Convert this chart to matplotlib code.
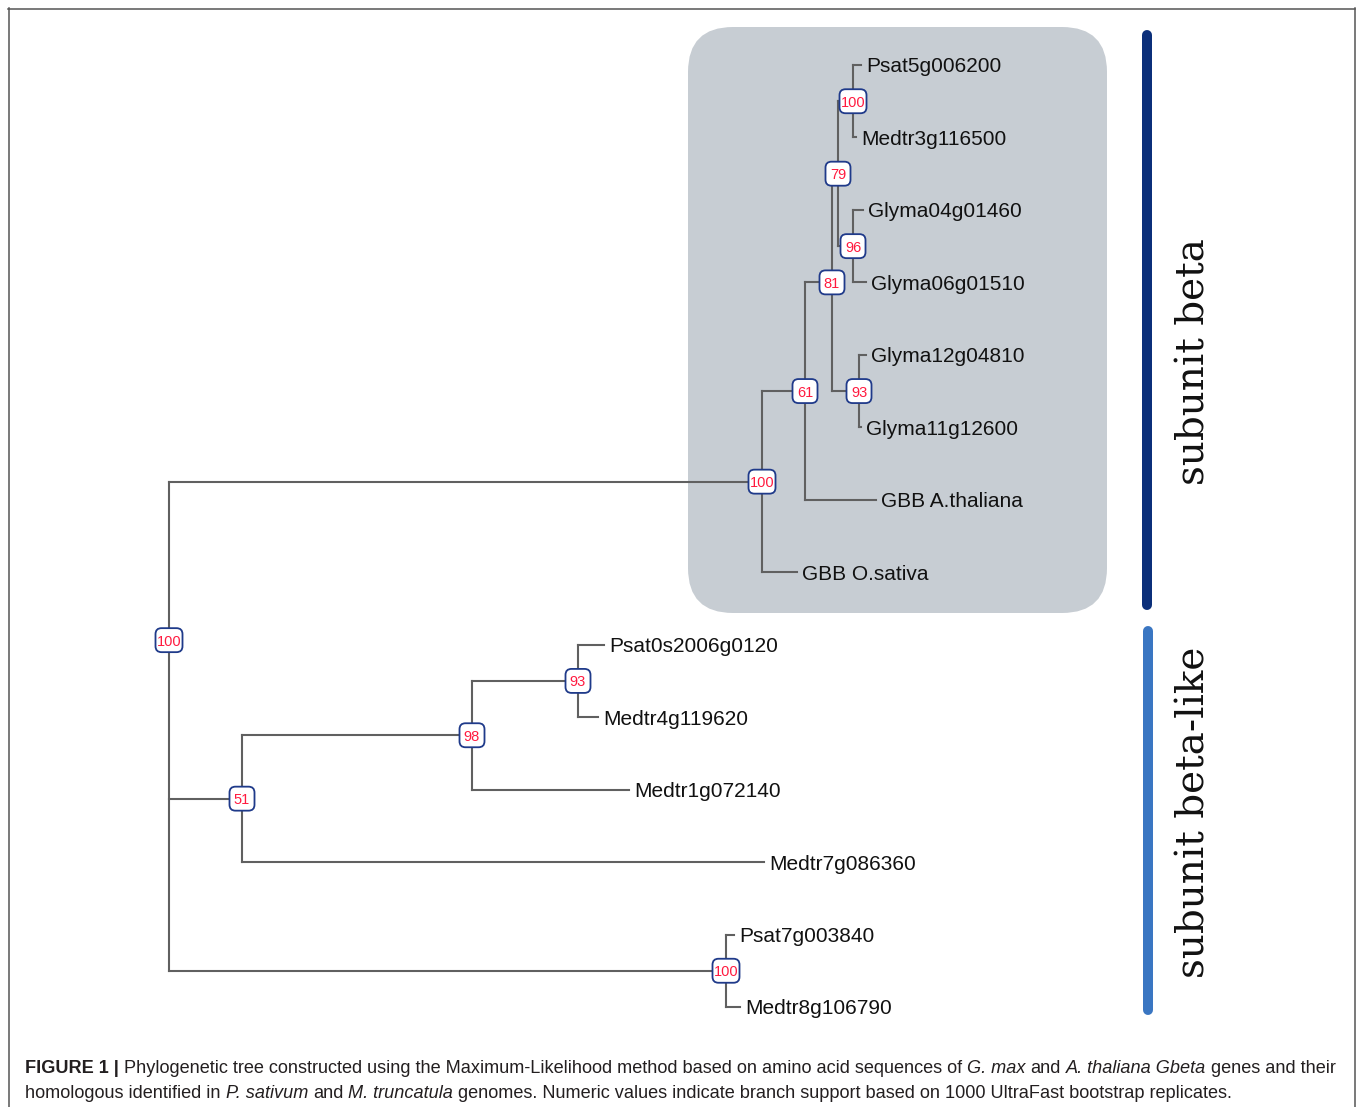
import matplotlib
matplotlib.use('Agg')
import matplotlib.pyplot as plt
import matplotlib.transforms as mtransforms
from matplotlib.patches import FancyBboxPatch
from matplotlib.lines import Line2D

W, H = 1358, 1107

# leaves from top to bottom and their distance from the root
leaf_names = ['Psat5g006200', 'Medtr3g116500', 'Glyma04g01460', 'Glyma06g01510',
              'Glyma12g04810', 'Glyma11g12600', 'GBB A.thaliana', 'GBB O.sativa',
              'Psat0s2006g0120', 'Medtr4g119620', 'Medtr1g072140', 'Medtr7g086360',
              'Psat7g003840', 'Medtr8g106790']
leaf_depth = [692, 687, 694, 697, 697, 692, 707, 628, 435, 429, 460, 595, 565, 571]

# internal nodes
node_names = ['root', 'beta', 'n61', 'n81', 'n79', 'n100a', 'n96', 'n93a',
              'n51', 'n98', 'n93b', 'n100c']
node_children = [
    ['beta', 'n51', 'n100c'],
    ['n61', 'GBB O.sativa'],
    ['n81', 'GBB A.thaliana'],
    ['n79', 'n93a'],
    ['n100a', 'n96'],
    ['Psat5g006200', 'Medtr3g116500'],
    ['Glyma04g01460', 'Glyma06g01510'],
    ['Glyma12g04810', 'Glyma11g12600'],
    ['n98', 'Medtr7g086360'],
    ['n93b', 'Medtr1g072140'],
    ['Psat0s2006g0120', 'Medtr4g119620'],
    ['Psat7g003840', 'Medtr8g106790'],
]
node_depth = [0, 593, 636, 663, 669, 684, 684, 690, 73, 303, 409, 557]
node_support = [100, 100, 61, 81, 79, 100, 96, 93, 51, 98, 93, 100]

clade_labels = ['subunit beta', 'subunit beta-like']

caption_line1 = [('FIGURE 1 |', 'bold', 'normal'),
                 ('Phylogenetic tree constructed using the Maximum-Likelihood method based on amino acid sequences of', 'normal', 'normal'),
                 ('G. max', 'normal', 'italic'),
                 ('and', 'normal', 'normal'),
                 ('A. thaliana Gbeta', 'normal', 'italic'),
                 ('genes and their', 'normal', 'normal')]
caption_line2 = [('homologous identified in', 'normal', 'normal'),
                 ('P. sativum', 'normal', 'italic'),
                 ('and', 'normal', 'normal'),
                 ('M. truncatula', 'normal', 'italic'),
                 ('genomes. Numeric values indicate branch support based on 1000 UltraFast bootstrap replicates.', 'normal', 'normal')]

line_col = '#606060'
box_edge = '#1f3a8a'
num_col = '#ff1a3f'
sans = 'Liberation Sans'

# tree layout
depth = dict(zip(leaf_names, leaf_depth))
depth.update(zip(node_names, node_depth))
children = dict(zip(node_names, node_children))
row = {n: i for i, n in enumerate(leaf_names)}

def get_row(n):
    if n not in row:
        kids = children[n]
        row[n] = (get_row(kids[0]) + get_row(kids[1])) / 2
    return row[n]

for n in node_names:
    get_row(n)

fig = plt.figure(figsize=(W / 100, H / 100), dpi=100)
ax = fig.add_axes([0, 0, 1, 1])
ax.axis('off')
row_px = 72.46
ax.set_xlim(-169, W - 169)
ax.set_ylim((H - 65) / row_px, -65 / row_px)

ident = mtransforms.IdentityTransform()

# frame round the figure
for xs, ys in [([8, 1355], [H - 8.5, H - 8.5]), ([8.5, 8.5], [0, H - 8]), ([1355, 1355], [0, H - 8])]:
    fig.add_artist(Line2D(xs, ys, transform=ident, color='#555555', lw=1.1))

# shaded clade
ax.add_patch(FancyBboxPatch((688, H - 613), 419, 586, boxstyle='round,pad=0,rounding_size=45',
                            transform=ident, fc='#c7cdd3', ec='none', zorder=0))

# branches
for n in node_names:
    kids = children[n]
    ys = [row[k] for k in kids]
    ax.plot([depth[n], depth[n]], [min(ys), max(ys)], color=line_col, lw=1.5,
            solid_capstyle='projecting', zorder=2)
    for k in kids:
        ax.plot([depth[n], depth[k]], [row[k], row[k]], color=line_col, lw=1.5,
                solid_capstyle='projecting', zorder=2)

# support boxes
for n, s in zip(node_names, node_support):
    w = 27 if s >= 100 else 25
    h = 24
    tr = mtransforms.Affine2D() + mtransforms.ScaledTranslation(depth[n], row[n], ax.transData)
    ax.add_patch(FancyBboxPatch((-w / 2, -h / 2), w, h, boxstyle='round,pad=0,rounding_size=6',
                                transform=tr, fc='white', ec=box_edge, lw=1.3, zorder=3))
    ax.text(depth[n], row[n], str(s), ha='center', va='center_baseline', fontsize=10.5,
            color=num_col, family=sans, zorder=4)

# leaf labels
for n in leaf_names:
    ax.annotate(n, (depth[n], row[n]), xytext=(5, -7.5), textcoords='offset pixels',
                va='baseline', ha='left', fontsize=15, family=sans, color='#111111')

# clade bars and labels
fig.add_artist(Line2D([1147, 1147], [H - 35, H - 605], transform=ident, color='#0b2f7a',
                      lw=7.2, solid_capstyle='round'))
fig.add_artist(Line2D([1148, 1148], [H - 631, H - 1010], transform=ident, color='#3a76c2',
                      lw=7.2, solid_capstyle='round'))
fig.text(1194, H - 362, clade_labels[0], rotation=90, ha='center', va='center',
         family='DejaVu Serif', fontsize=28, color='#111111', transform=ident)
fig.text(1194, H - 812, clade_labels[1], rotation=90, ha='center', va='center',
         family='DejaVu Serif', fontsize=28, color='#111111', transform=ident)

# caption
renderer = fig.canvas.get_renderer()

def text_width(s, size, weight='normal', style='normal'):
    t = fig.text(0, 0, s, fontsize=size, weight=weight, style=style, family=sans, transform=ident)
    w = t.get_window_extent(renderer).width
    t.remove()
    return w

def line_width(runs, size):
    sp = text_width('x x', size) - text_width('xx', size)
    return sum(text_width(s, size, wt, st) for s, wt, st in runs) + sp * (len(runs) - 1)

cap_size = 12.0
lw1 = line_width(caption_line1, cap_size)
cap_size = min(13.2, cap_size * 1314 / lw1)

def draw_runs(x, y, runs, size):
    sp = text_width('x x', size) - text_width('xx', size)
    for s, wt, st in runs:
        t = fig.text(x, y, s, fontsize=size, weight=wt, style=st, family=sans,
                     color='#231f20', va='baseline', transform=ident)
        x = t.get_window_extent(renderer).x1 + sp

draw_runs(25, H - 1073, caption_line1, cap_size)
draw_runs(25, H - 1098, caption_line2, cap_size)

fig.savefig('out.png', dpi=100, facecolor='white')
